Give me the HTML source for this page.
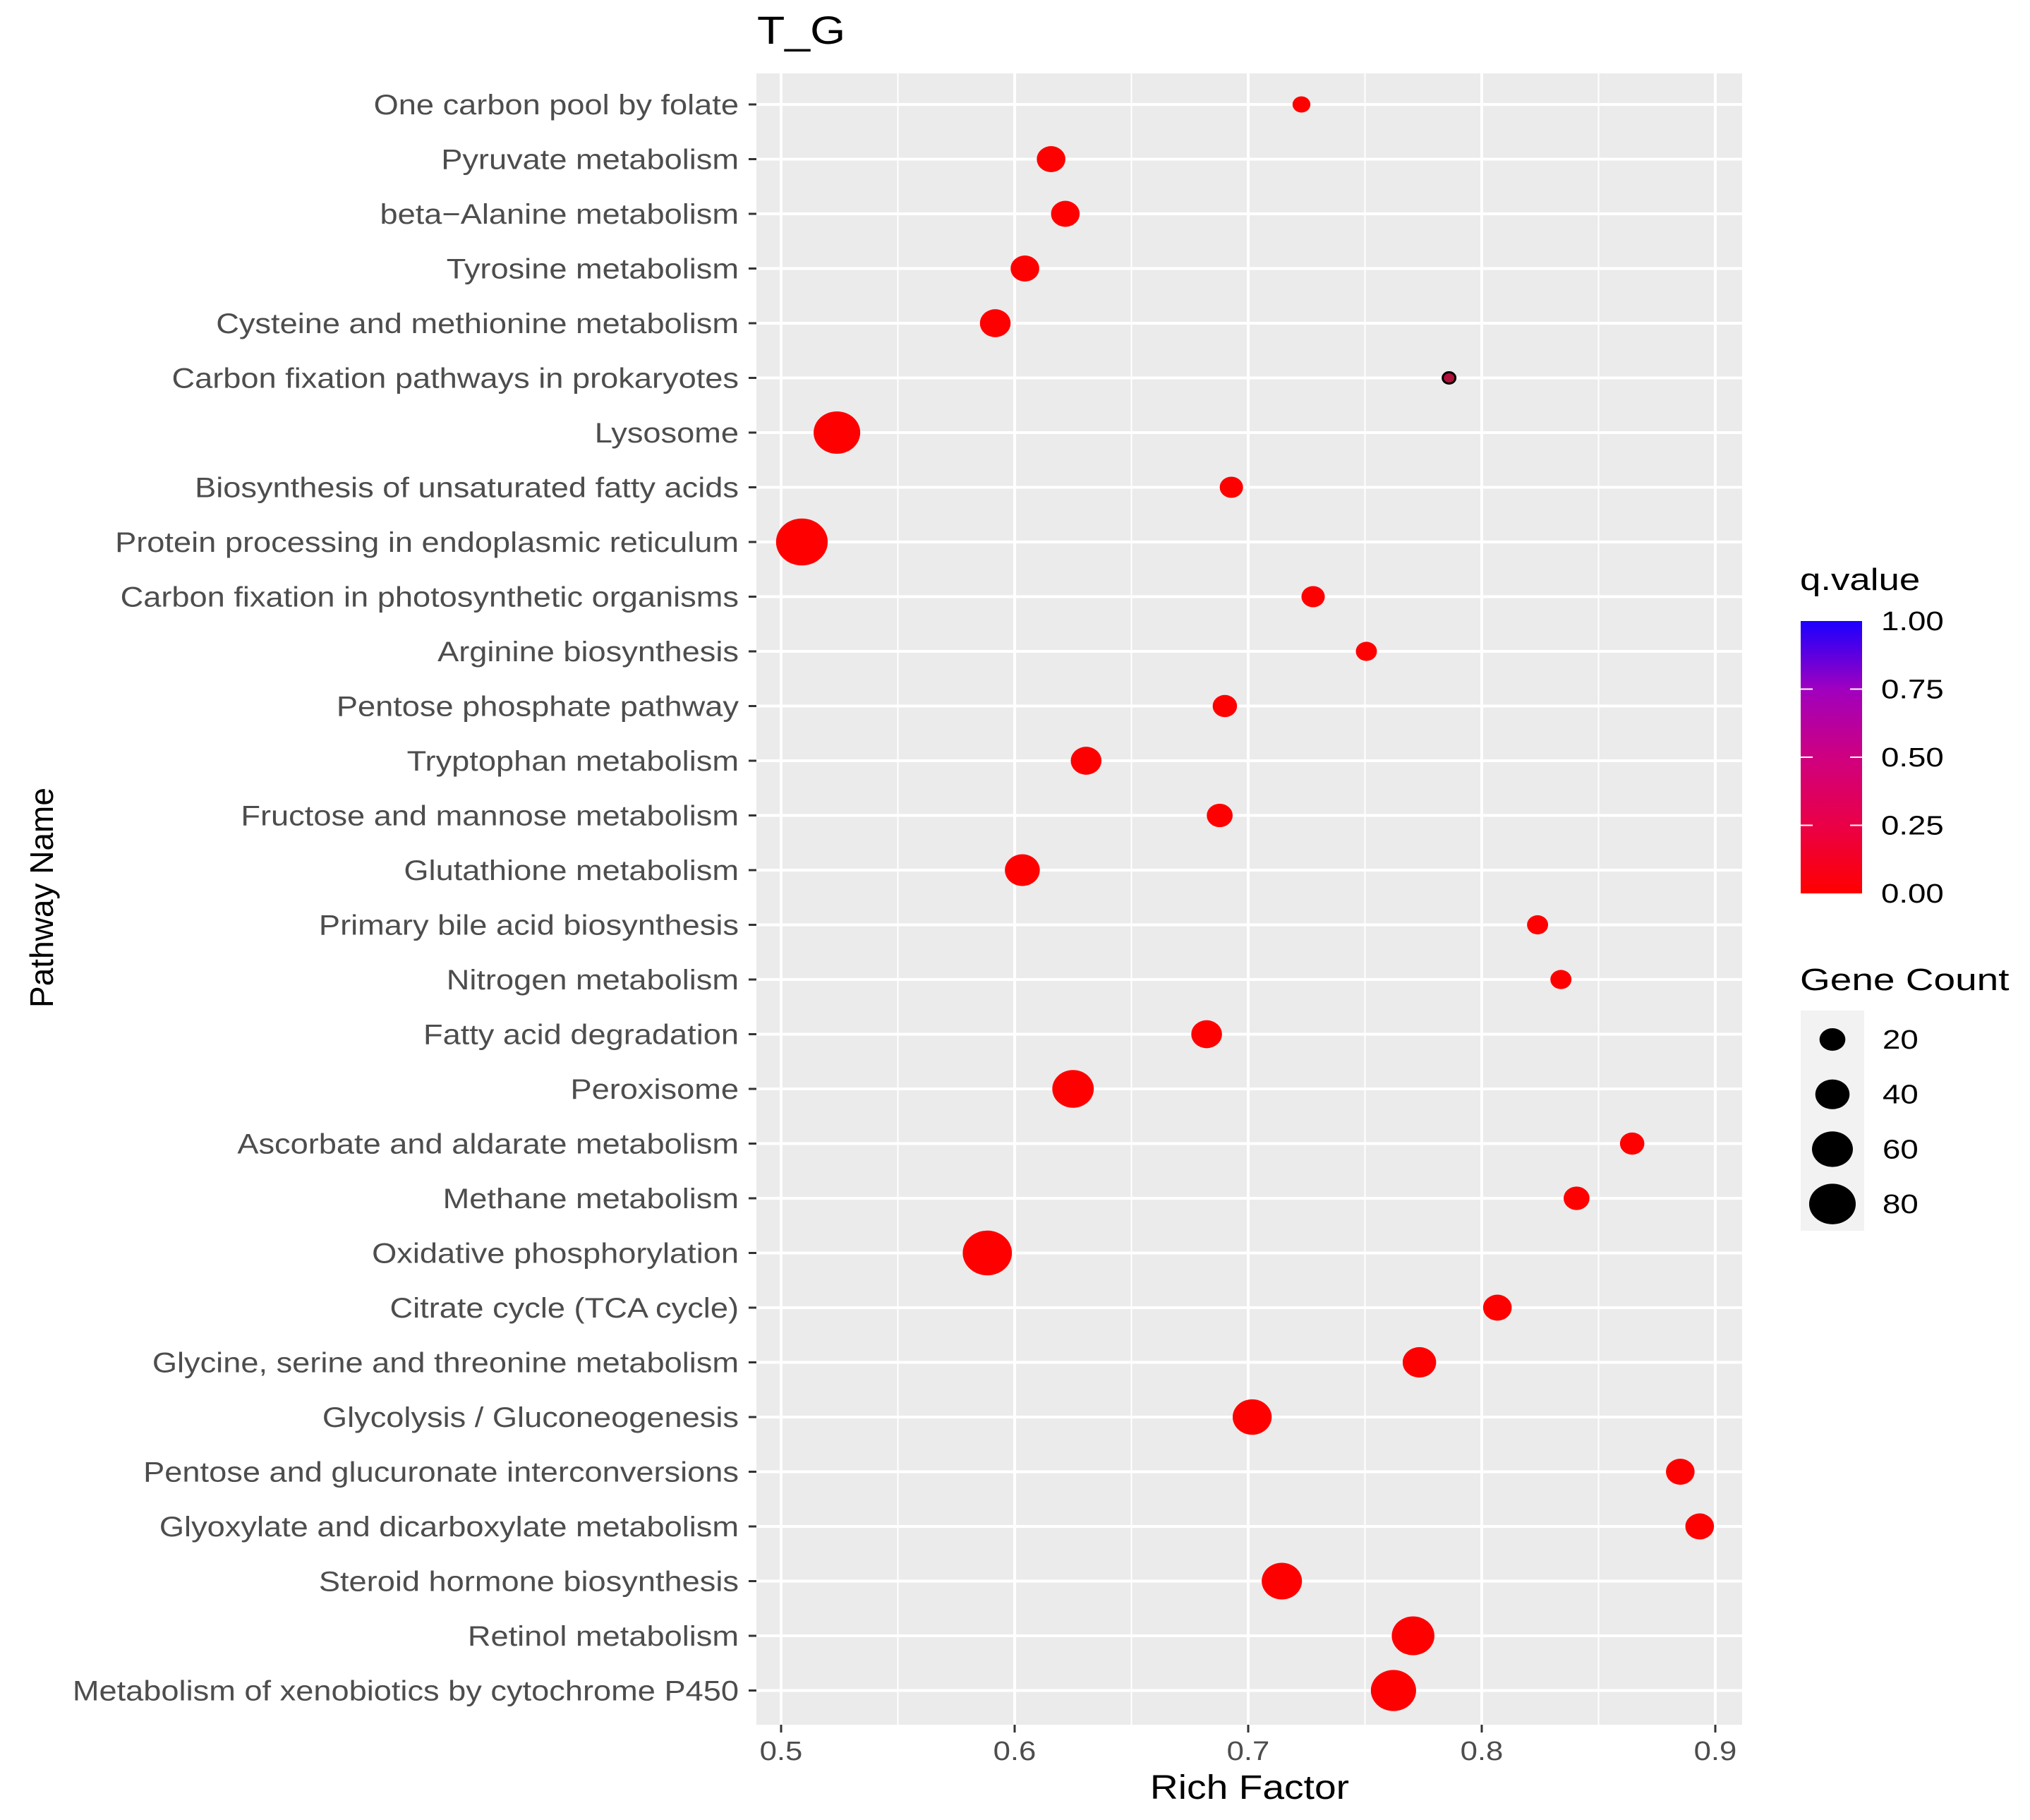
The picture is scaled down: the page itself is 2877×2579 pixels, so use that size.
<!DOCTYPE html>
<html><head><meta charset="utf-8"><style>
body{margin:0;background:#fff}
svg{display:block;font-family:"Liberation Sans",sans-serif}
</style></head><body>
<svg id="chart" width="2877" height="2579" viewBox="0 0 2877 2579">
<text x="1073" y="62" font-size="56" fill="#000" data-sx="1.15">T_G</text>
<rect x="1072" y="104" width="1397" height="2340" fill="#ebebeb"/>
<g id="grid"></g><g id="yaxis"></g><g id="xaxis"></g><g id="points"></g>
<text transform="translate(75,1272) rotate(-90)" text-anchor="middle" font-size="46" fill="#000">Pathway Name</text>
<text x="1771" y="2549" text-anchor="middle" font-size="48" fill="#000" data-sx="1.15">Rich Factor</text>
<defs><linearGradient id="qg" x1="0" y1="1" x2="0" y2="0">
<stop offset="0" stop-color="#ff0000"/><stop offset="0.25" stop-color="#ea0046"/><stop offset="0.5" stop-color="#cf0080"/><stop offset="0.75" stop-color="#a000bf"/><stop offset="1" stop-color="#1a00ff"/></linearGradient></defs>
<g>
<text x="2551" y="836" font-size="44" fill="#000" data-sx="1.2">q.value</text>
<rect x="2552" y="880" width="87" height="386" fill="url(#qg)"/>
<g id="qlabels"></g>
</g>
<g>
<text x="2551" y="1403" font-size="44" fill="#000" data-sx="1.25">Gene Count</text>
<rect x="2552" y="1432" width="90" height="312" fill="#f2f2f2"/>
<g id="slegend"></g>
</g>
</svg>
<script>
const pathways=["One carbon pool by folate","Pyruvate metabolism","beta\u2212Alanine metabolism","Tyrosine metabolism","Cysteine and methionine metabolism","Carbon fixation pathways in prokaryotes","Lysosome","Biosynthesis of unsaturated fatty acids","Protein processing in endoplasmic reticulum","Carbon fixation in photosynthetic organisms","Arginine biosynthesis","Pentose phosphate pathway","Tryptophan metabolism","Fructose and mannose metabolism","Glutathione metabolism","Primary bile acid biosynthesis","Nitrogen metabolism","Fatty acid degradation","Peroxisome","Ascorbate and aldarate metabolism","Methane metabolism","Oxidative phosphorylation","Citrate cycle (TCA cycle)","Glycine, serine and threonine metabolism","Glycolysis / Gluconeogenesis","Pentose and glucuronate interconversions","Glyoxylate and dicarboxylate metabolism","Steroid hormone biosynthesis","Retinol metabolism","Metabolism of xenobiotics by cytochrome P450"];
const richFactor=[0.7228,0.6156,0.6217,0.6044,0.5917,0.786,0.5239,0.6928,0.5089,0.7278,0.7506,0.69,0.6306,0.6878,0.6033,0.8239,0.8339,0.6822,0.625,0.8644,0.8406,0.5883,0.8067,0.7733,0.7017,0.885,0.8933,0.7144,0.7706,0.7622];
const geneCount=[6,26,26,26,31,1,80,15,100,15,11,17,31,20,42,11,11,31,62,17,20,90,26,38,54,26,26,58,66,75];
const qValue=[0,0,0,0,0,0.35,0,0,0,0,0,0,0,0,0,0,0,0,0,0,0,0,0,0,0,0,0,0,0,0];
const xTicks=[0.5,0.6,0.7,0.8,0.9];
const xMinor=[0.55,0.65,0.75,0.85];
const qTicks=[0,0.25,0.5,0.75,1];
const sizeBreaks=[20,40,60,80];

const NS="http://www.w3.org/2000/svg";
function mk(t,a,p){const e=document.createElementNS(NS,t);for(const k in a)e.setAttribute(k,a[k]);p.appendChild(e);return e;}
const xs=v=>1107+(v-0.5)*3310;
const ys=i=>148+i*77.5;
const rx=c=>Math.sqrt(Math.max(100,400+(c-20)*14.93))*1.835/2;
const qcol=q=>q>0?'#b0103a':'#ff0000';
const grid=document.getElementById('grid'),ya=document.getElementById('yaxis'),xa=document.getElementById('xaxis'),pts=document.getElementById('points');
xMinor.forEach(v=>{const l=mk('line',{x1:xs(v),x2:xs(v),y1:104,y2:2444,stroke:'#fff','stroke-width':2},grid);

});
xTicks.forEach(v=>{const l=mk('line',{x1:xs(v),x2:xs(v),y1:104,y2:2444,stroke:'#fff','stroke-width':4},grid);


const t=mk('line',{x1:xs(v),x2:xs(v),y1:2444,y2:2455,stroke:'#333','stroke-width':3},xa);


const tx=mk('text',{x:xs(v),y:2494,'text-anchor':'middle','font-size':38,fill:'#4d4d4d','data-sx':1.15},xa);tx.textContent=String(v);

});
pathways.forEach((p,i)=>{const y=ys(i);
const l=mk('line',{x1:1072,x2:2469,y1:y,y2:y,stroke:'#fff','stroke-width':4},grid);


const t=mk('line',{x1:1061,x2:1072,y1:y,y2:y,stroke:'#333','stroke-width':3},ya);


const tx=mk('text',{x:1047,y:y+14,'text-anchor':'end','font-size':40,fill:'#4d4d4d','data-sx':1.13},ya);tx.textContent=p;

});
pathways.forEach((p,i)=>{const r=rx(geneCount[i]);
const a={cx:xs(richFactor[i]),cy:ys(i),rx:r,ry:r/1.1,fill:qcol(qValue[i])};
if(qValue[i]>0){a.stroke='#000';a['stroke-width']=3;a.rx=9;a.ry=8;}
const e=mk('ellipse',a,pts);

});
const ql=document.getElementById('qlabels');
qTicks.forEach(q=>{const y=1266-q*386;
const tx=mk('text',{x:2666,y:y+13,'font-size':38,fill:'#000','data-sx':1.2},ql);tx.textContent=q.toFixed(2);


if(q>0&&q<1){mk('line',{x1:2552,x2:2569,y1:y,y2:y,stroke:'#fff','stroke-width':2},ql);mk('line',{x1:2622,x2:2639,y1:y,y2:y,stroke:'#fff','stroke-width':2},ql);}});
const sl=document.getElementById('slegend');
sizeBreaks.forEach((c,k)=>{const y=1473+k*77.7,r=rx(c);
const e=mk('ellipse',{cx:2597,cy:y,rx:r,ry:r/1.15,fill:'#000'},sl);


const tx=mk('text',{x:2668,y:y+13,'font-size':38,fill:'#000','data-sx':1.2},sl);tx.textContent=c;

});
document.querySelectorAll('text[data-sx]').forEach(t=>{const s=+t.getAttribute('data-sx'),x=+t.getAttribute('x');
t.setAttribute('transform',`translate(${x},0) scale(${s},1) translate(${-x},0)`);});
</script>
</body></html>
